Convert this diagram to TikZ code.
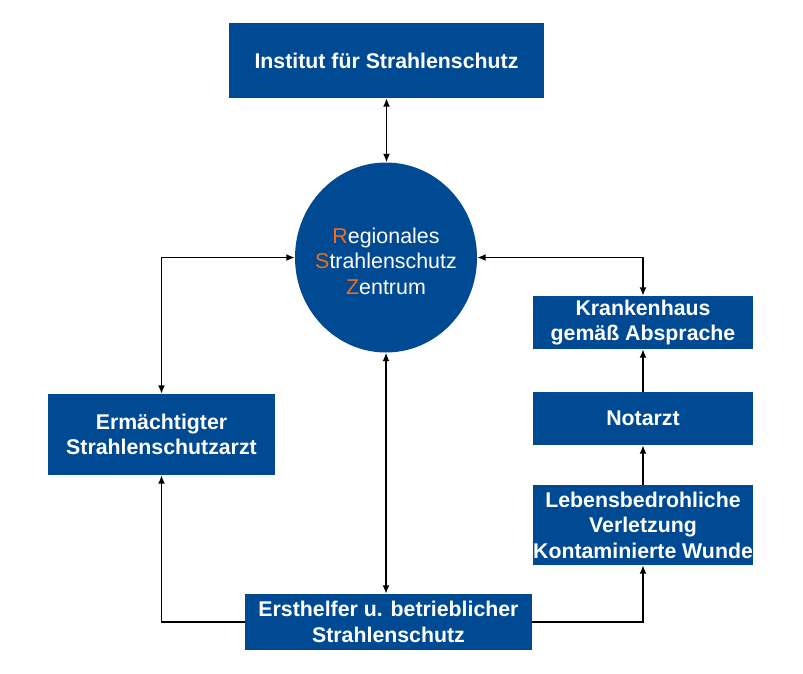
\documentclass[tikz,border=0pt]{standalone}
\usepackage{fontspec}
\setmainfont{Liberation Sans}
\usetikzlibrary{shapes.geometric,arrows.meta}
\definecolor{rszblue}{RGB}{0,74,147}
\definecolor{rszorange}{RGB}{237,110,30}

\tikzset{
  box/.style={fill=rszblue, text=white, inner sep=0pt, align=center,
    font=\fontsize{21.3}{25.5}\selectfont\bfseries},
  link/.style={line width=1.6pt, -{Latex[length=8.5pt,width=7pt]}},
  both/.style={line width=1.6pt, {Latex[length=8.5pt,width=7pt]}-{Latex[length=8.5pt,width=7pt]}}
}

\begin{document}
\begin{tikzpicture}[x=1pt, y=-1pt]
  \useasboundingbox (0,0) rectangle (803,673);
  \node[box, minimum width=315pt, minimum height=75pt] (inst) at (386.5,60.5) {Institut für Strahlenschutz};
  \node[ellipse, fill=rszblue, inner sep=0pt, minimum width=182pt, minimum height=190pt] (rsz) at (386,257.5) {};
  \node[text=white, align=center, inner sep=0pt, font=\fontsize{21.4}{25.5}\selectfont] (rsztext) at (386,261)
    {\textcolor{rszorange}{R}egionales\\\textcolor{rszorange}{S}trahlenschutz\\\textcolor{rszorange}{Z}entrum};
  \node[box, minimum width=220pt, minimum height=53pt] (kh) at (643,322.5) {Krankenhaus\\gemäß Absprache};
  \node[box, minimum width=220pt, minimum height=53pt] (nota) at (643,418.5) {Notarzt};
  \node[box, minimum width=220pt, minimum height=80pt] (leben) at (643,525) {Lebensbedrohliche\\Verletzung\\Kontaminierte Wunde};
  \node[box, minimum width=227pt, minimum height=81pt] (arzt) at (161.5,434.5) {Ermächtigter\\Strahlenschutzarzt};
  \node[box, minimum width=287pt, minimum height=56pt] (erst) at (388.5,622) {Ersthelfer u. betrieblicher\\Strahlenschutz};

  \draw[both] (inst) -- (inst |- rsz.north);
  \draw[both] (rsz.west) -| (arzt.north);
  \draw[both] (rsz.east) -| (kh.north);
  \draw[both] (rsz.south) -- (rsz.south |- erst.north);
  \draw[link] (erst.west) -| (arzt.south);
  \draw[link] (erst.east) -| (leben.south);
  \draw[link] (leben) -- (nota);
  \draw[link] (nota) -- (kh);
\end{tikzpicture}
\end{document}
